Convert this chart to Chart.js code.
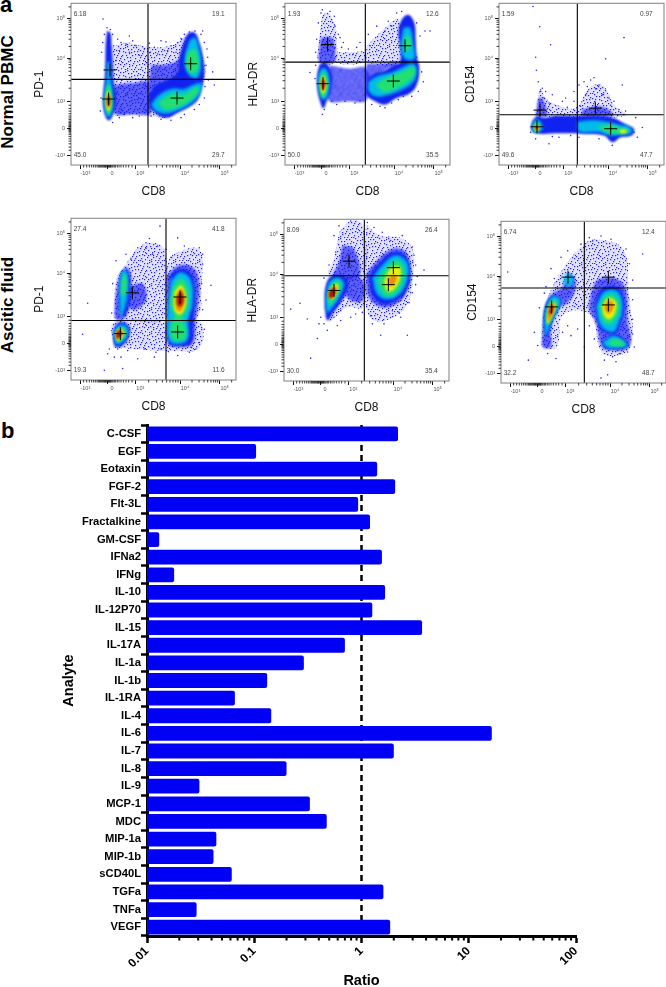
<!DOCTYPE html>
<html>
<head>
<meta charset="utf-8">
<title>CD8 flow plots and analyte ratio</title>
<script src="https://cdn.jsdelivr.net/npm/chart.js@4"></script>
<style>
  html, body { margin: 0; padding: 0; background: #fff; overflow: hidden; }
  body { position: relative; width: 666px; height: 987px; font-family: "Liberation Sans", Arial, sans-serif; color: #000; }
  canvas { position: absolute; }
  .letter { position: absolute; font-weight: bold; font-size: 22px; line-height: 22px; }
  .rowname { position: absolute; font-weight: bold; font-size: 17px; line-height: 18px; white-space: nowrap; transform: translate(-50%, -50%) rotate(-90deg); }
</style>
</head>
<body>
<div class="letter" style="left:0;top:-6px">a</div>
<div class="letter" style="left:1px;top:420px">b</div>
<div class="rowname" style="left:8px;top:92px">Normal PBMC</div>
<div class="rowname" style="left:8px;top:305px">Ascitic fluid</div>
<canvas id="p1" width="212" height="203"></canvas>
<canvas id="p2" width="212" height="203"></canvas>
<canvas id="p3" width="212" height="203"></canvas>
<canvas id="p4" width="212" height="203"></canvas>
<canvas id="p5" width="212" height="203"></canvas>
<canvas id="p6" width="212" height="203"></canvas>
<canvas id="barras" width="666" height="575"></canvas>
<script>
// panel b
const analytes = ['C-CSF','EGF','Eotaxin','FGF-2','Flt-3L','Fractalkine','GM-CSF','IFNa2','IFNg','IL-10','IL-12P70','IL-15','IL-17A','IL-1a','IL-1b','IL-1RA','IL-4','IL-6','IL-7','IL-8','IL-9','MCP-1','MDC','MIP-1a','MIP-1b','sCD40L','TGFa','TNFa','VEGF'];
const ratios = [2.19,0.104,1.40,2.06,0.93,1.20,0.013,1.55,0.0179,1.66,1.26,3.67,0.70,0.29,0.132,0.066,0.144,16.4,2.0,0.20,0.0308,0.33,0.474,0.0443,0.0417,0.0617,1.60,0.029,1.85];
const ratioTicks = [0.01,0.1,1,10,100];
const ratioTickLabels = ['0.01','0.1','1','10','100'];
const ratioMinorTicks = [0.02,0.03,0.04,0.05,0.06,0.07,0.08,0.09,0.2,0.3,0.4,0.5,0.6,0.7,0.8,0.9,2,3,4,5,6,7,8,9,20,30,40,50,60,70,80,90];
const referenceRatio = 1;

// panel a: axes are display channels of the biexponential scale (0-495, counted from the left and top of each plot)
const xTicks = [28,108,193,327,446];
const xTickLabels = ['-10³','0','10³','10⁴','10⁵'];
const xMinorTicks = [38,47,55,62,68,73,78,82,85,88,91,94,97,100,102,104,106,110,112,114,116,118,120,123,126,130,134,139,144,150,157,165,173,183,233,257,274,287,297,306,314,321,363,384,399,410,420,428,434,440,482];
const yTicks = [47,168,300,382,465];
const yTickLabels = ['10⁵','10⁴','10³','0','-10³'];
const yMinorTicks = [11,52,58,65,73,83,95,110,132,173,180,188,197,208,221,237,260,312,322,330,338,345,351,356,361,365,369,372,375,377,379,385,387,390,393,397,402,408,415,422,430,440,450];

// density contours, one list of outlines per colour band
const p1Quad = ['6.18','19.1','45.0','29.7'];
const p1Gates = [231,233];
const p1Means = [[117,204],[113,293],[359,185],[318,290]];
const p1Speckle = [[96,48],[108,75],[118,80],[125,95],[100,95],[95,120],[150,120],[165,125],[175,100],[195,130],[220,140],[250,135],[270,115],[300,130],[320,120],[340,95],[355,88],[372,85],[390,95],[400,120],[410,165],[425,210],[430,250],[400,290],[385,310],[340,340],[270,355],[240,345],[205,345],[160,340],[125,365],[135,175],[175,150],[205,160],[260,155],[290,145],[315,150],[128,130],[145,145],[238,150],[405,190],[412,235],[140,110],[92,150],[90,290],[88,330],[145,350],[185,350],[300,358],[330,350],[370,325],[402,255],[408,140],[395,85],[330,108],[285,118],[235,122],[185,115]];
const p1Haze = [[[125,135],[165,120],[210,130],[260,135],[310,125],[345,105],[390,150],[395,250],[300,345],[235,345],[170,340],[128,340],[125,250]]];
const p1Dense = [[[130,250],[180,245],[235,245],[240,335],[190,340],[130,335]],[[240,190],[300,185],[335,170],[340,240],[240,260]]];
const p1Blue = [[[108,85],[118,90],[122,130],[125,180],[128,240],[135,280],[132,320],[122,350],[112,358],[103,345],[96,310],[97,270],[101,230],[103,180],[104,130]],[[235,320],[265,345],[290,350],[320,335],[350,320],[380,295],[393,255],[400,210],[395,160],[385,120],[372,90],[352,92],[338,120],[325,165],[320,210],[290,235],[255,250],[235,280]]];
const p1Cyan = [[[108,180],[116,180],[118,220],[124,270],[126,310],[120,340],[112,350],[104,335],[100,300],[103,260],[107,220]],[[240,310],[265,280],[300,262],[340,262],[370,248],[392,245],[385,280],[355,310],[315,330],[285,338],[255,330]],[[355,115],[372,105],[385,140],[390,190],[380,228],[360,225],[345,200],[342,165]]];
const p1Green = [[[106,255],[116,250],[122,285],[122,320],[113,342],[105,325],[102,290]],[[262,305],[300,278],[340,278],[375,258],[385,265],[360,295],[320,318],[285,325]],[[350,150],[370,140],[382,170],[380,205],[360,215],[345,190]]];
const p1Yellow = [[[108,270],[115,270],[119,295],[118,320],[112,330],[106,315],[105,290]]];
const p1Orange = [[[109,278],[115,278],[118,300],[113,322],[107,308]]];
const p1Red = [[[110,285],[115,285],[117,300],[113,315],[109,305]]];

const p2Quad = ['1.93','12.6','50.0','35.5'];
const p2Gates = [241,180];
const p2Means = [[128,126],[114,246],[360,130],[325,238]];
const p2Speckle = [[112,20],[135,25],[148,40],[100,60],[150,70],[160,95],[175,120],[190,140],[205,155],[225,120],[95,110],[92,150],[75,212],[150,135],[250,95],[275,70],[310,55],[335,30],[350,25],[395,60],[405,100],[420,85],[435,85],[410,210],[415,240],[400,270],[380,285],[340,295],[300,320],[260,310],[225,298],[180,300],[140,300],[118,325],[112,340],[300,85],[320,70],[255,130],[395,165],[170,135],[215,135],[165,105],[108,30],[155,310],[210,305],[285,315],[320,305],[355,285],[90,230],[92,190]];
const p2Haze = [[[110,40],[128,28],[148,60],[155,110],[150,180],[102,180],[103,110]],[[155,150],[200,150],[240,150],[240,180],[155,182]],[[245,130],[290,85],[340,50],[350,180],[245,178]]];
const p2Dense = [[[135,190],[190,200],[245,200],[245,295],[190,300],[130,295]],[[108,105],[140,105],[150,140],[145,180],[105,180],[103,140]],[[245,185],[300,185],[340,180],[300,205],[245,235]]];
const p2Blue = [[[105,185],[125,185],[140,215],[138,265],[125,300],[115,322],[105,300],[97,260],[97,215]],[[245,235],[270,215],[300,205],[325,190],[345,180],[345,130],[340,90],[350,50],[370,35],[388,60],[392,110],[395,160],[403,200],[395,250],[375,275],[335,290],[300,310],[270,300],[245,280]]];
const p2Cyan = [[[108,200],[120,198],[132,225],[132,265],[120,295],[107,285],[100,250],[101,220]],[[250,240],[280,222],[320,212],[355,195],[385,185],[395,205],[385,240],[350,265],[310,280],[275,285],[252,270]],[[355,75],[375,75],[384,120],[388,170],[360,170],[348,135]]];
const p2Green = [[[108,215],[120,212],[128,240],[125,270],[114,290],[105,270],[103,240]],[[272,248],[310,225],[350,210],[385,195],[390,215],[370,240],[330,262],[295,272]],[[362,100],[374,100],[378,135],[365,145],[357,125]]];
const p2Yellow = [[[110,225],[118,225],[123,250],[118,275],[112,275],[107,250]]];
const p2Orange = [[[111,230],[118,232],[120,255],[114,270],[109,255]]];
const p2Red = [[[112,235],[117,235],[119,255],[114,262],[110,252]]];

const p3Quad = ['1.59','0.97','49.6','47.7'];
const p3Gates = [235,341];
const p3Means = [[123,327],[114,378],[289,321],[335,384]];
const p3Speckle = [[102,10],[122,72],[155,127],[110,165],[112,205],[118,240],[130,260],[140,270],[160,280],[200,290],[240,250],[255,240],[275,235],[300,250],[320,170],[375,105],[370,250],[345,300],[380,330],[410,350],[430,380],[415,410],[340,435],[300,415],[240,410],[180,410],[150,430],[110,415],[190,300],[225,300],[260,280],[330,290],[310,280],[135,290],[95,395],[225,270],[285,228],[265,255],[290,262],[335,312],[360,325],[150,305],[205,318],[245,315],[125,270],[405,395],[160,408],[215,405]];
const p3Haze = [[[115,300],[125,262],[140,290],[170,310],[230,320],[270,260],[310,250],[345,310],[380,345],[120,345]]];
const p3Dense = [[[110,345],[120,290],[135,300],[142,345]],[[250,325],[300,315],[335,330],[340,345],[250,345]]];
const p3Blue = [[[100,360],[115,345],[135,350],[170,345],[225,345],[290,345],[340,350],[380,370],[405,385],[398,405],[365,410],[340,425],[315,405],[260,400],[180,398],[110,398],[96,385]]];
const p3Cyan = [[[100,375],[108,358],[122,360],[130,385],[105,393]],[[235,362],[280,358],[320,362],[355,370],[395,380],[395,398],[365,402],[335,405],[300,395],[240,392]]];
const p3Green = [[[105,368],[118,365],[122,388],[105,392]],[[295,378],[330,372],[360,380],[385,385],[388,395],[365,400],[325,395]]];
const p3Yellow = [[[108,372],[117,372],[118,388],[108,388]],[[362,388],[380,387],[382,395],[365,397]]];
const p3Orange = [[[109,374],[116,374],[117,386],[109,387]]];
const p3Red = [[[110,375],[115,375],[116,385],[110,385]]];

const p4Quad = ['27.4','41.8','19.3','11.6'];
const p4Gates = [285,313];
const p4Means = [[184,228],[327,241],[148,353],[320,348]];
const p4Speckle = [[267,24],[235,62],[225,75],[200,90],[260,85],[320,60],[340,85],[385,90],[395,140],[392,200],[420,205],[395,280],[400,340],[385,380],[355,410],[320,420],[250,425],[200,430],[150,425],[110,415],[100,465],[155,460],[50,260],[35,355],[135,130],[125,200],[122,290],[140,400],[170,405],[270,400],[360,395],[300,120],[395,110],[165,110],[245,110],[115,400],[130,425],[175,380],[220,400],[255,410],[292,408],[375,400],[405,250],[180,125],[225,92],[285,95]];
const p4Haze = [[[131,306],[136,186],[161,146],[206,86],[256,76],[284,106],[284,306]],[[286,306],[291,136],[316,106],[386,96],[391,206],[376,306]],[[126,396],[131,316],[286,316],[386,316],[386,396],[306,406]]];
const p4Dense = [[[131,260],[145,180],[165,150],[180,170],[180,230],[165,300],[135,310]],[[175,210],[215,200],[225,250],[190,280],[170,265]],[[286,180],[320,145],[365,150],[385,200],[375,310],[365,385],[320,395],[290,385],[288,300]],[[125,350],[140,320],[165,320],[178,345],[165,380],[135,395]]];
const p4Blue = [[[300,170],[330,155],[360,170],[372,230],[365,320],[360,380],[320,390],[295,380],[292,300]],[[145,270],[150,175],[170,165],[175,230],[160,300]],[[128,350],[140,325],[165,325],[175,348],[160,380],[135,390]]];
const p4Cyan = [[[145,250],[150,170],[165,160],[172,200],[165,260],[150,300]],[[128,350],[142,328],[165,330],[172,350],[155,378],[135,385]],[[300,190],[330,165],[360,190],[365,260],[352,310],[350,370],[320,385],[295,375],[290,300]]];
const p4Green = [[[152,190],[162,170],[168,200],[158,240],[150,230]],[[132,350],[145,335],[162,340],[160,365],[140,378]],[[305,210],[330,185],[352,215],[350,275],[335,305],[345,340],[340,370],[305,370],[300,330],[310,300],[298,260]]];
const p4Yellow = [[[134,352],[146,338],[158,345],[155,362],[140,374]],[[310,225],[330,205],[345,240],[340,280],[325,295],[310,280]]];
const p4Orange = [[[135,353],[146,340],[155,348],[150,362],[138,372]],[[315,235],[330,215],[341,245],[335,275],[322,285],[314,268]]];
const p4Red = [[[136,352],[145,342],[152,350],[148,362],[138,368]],[[318,240],[330,225],[338,250],[328,270],[318,262]]];

const p5Quad = ['8.09','26.4','30.0','35.4'];
const p5Gates = [241,173];
const p5Means = [[195,128],[150,218],[328,148],[313,200]];
const p5Speckle = [[200,5],[165,20],[250,10],[295,40],[355,50],[385,85],[395,140],[420,155],[395,200],[375,255],[350,300],[300,320],[265,320],[290,355],[370,355],[215,290],[170,310],[105,320],[100,365],[80,425],[48,257],[20,275],[70,305],[130,340],[150,300],[120,180],[135,140],[155,100],[260,295],[325,280],[240,45],[150,50],[200,300],[235,285],[160,325],[120,320],[110,300],[270,25],[320,65],[390,110],[400,175],[385,225],[345,285]];
const p5Haze = [[[165,40],[200,5],[235,15],[238,170],[135,170],[150,120]],[[245,15],[290,50],[345,55],[385,90],[385,200],[370,260],[330,300],[270,310],[245,260]],[[150,175],[238,175],[238,270],[190,270],[135,310]]];
const p5Dense = [[[175,80],[210,90],[225,175],[150,175],[165,130]],[[245,170],[275,130],[325,90],[365,100],[382,170],[365,230],[335,260],[295,270],[255,240]],[[180,180],[235,185],[235,250],[190,240]]];
const p5Blue = [[[122,270],[125,205],[145,172],[185,180],[190,215],[170,255],[145,290],[130,310]],[[255,175],[285,135],[330,100],[365,115],[378,170],[362,225],[330,252],[295,258],[265,230]]];
const p5Cyan = [[[125,250],[135,195],[160,178],[180,195],[170,230],[145,270],[130,285]],[[265,180],[295,140],[335,110],[368,130],[372,175],[350,225],[315,245],[280,230]]];
const p5Green = [[[130,240],[140,205],[160,188],[172,200],[155,240],[138,262]],[[280,190],[305,150],[340,125],[360,150],[355,195],[330,230],[300,230]]];
const p5Yellow = [[[133,230],[145,205],[160,198],[162,215],[145,245]],[[300,190],[320,150],[345,145],[350,175],[330,215],[310,220]]];
const p5Orange = [[[134,226],[147,207],[158,208],[152,228],[138,243]],[[310,185],[330,170],[338,185],[320,205]]];
const p5Red = [[[135,222],[148,210],[155,218],[148,238],[136,240]]];

const p6Quad = ['6.74','12.4','32.2','48.7'];
const p6Gates = [250,204];
const p6Means = [[201,171],[322,171],[152,262],[322,256]];
const p6Speckle = [[425,100],[20,155],[300,45],[330,55],[375,85],[385,130],[395,180],[395,240],[395,300],[395,345],[400,385],[380,400],[335,415],[320,470],[300,480],[115,265],[100,340],[110,380],[82,425],[140,405],[165,420],[250,385],[210,350],[200,90],[180,110],[150,145],[135,200],[130,220],[240,70],[355,405],[310,425],[345,430],[230,330],[200,320],[185,340],[265,320],[280,360],[275,60],[265,50],[160,175]];
const p6Haze = [[[122,386],[127,286],[167,176],[242,76],[287,56],[367,86],[382,206],[387,386],[307,406],[267,286],[187,286],[167,386]]];
const p6Dense = [[[125,340],[130,270],[150,225],[185,200],[205,160],[225,190],[205,245],[170,270],[150,330],[150,385],[125,385]],[[270,220],[290,180],[345,175],[375,210],[380,300],[385,385],[320,395],[300,380],[285,310],[265,270]]];
const p6Blue = [[[128,320],[133,262],[155,228],[178,238],[172,270],[150,315],[137,355]],[[280,255],[305,205],[352,205],[370,255],[355,325],[340,345],[300,330]],[[303,370],[340,345],[382,378],[350,390],[313,387]]];
const p6Cyan = [[[130,320],[135,265],[155,230],[178,240],[170,270],[150,310],[135,350]],[[185,185],[200,160],[218,175],[205,200]],[[285,260],[310,215],[350,215],[365,260],[350,320],[335,340],[300,320]],[[305,370],[340,350],[380,378],[350,388],[315,385]]];
const p6Green = [[[135,305],[140,265],[155,240],[170,250],[160,280],[142,315]],[[295,260],[318,225],[345,230],[355,265],[335,310],[310,310]],[[320,372],[345,360],[372,378],[340,382]]];
const p6Yellow = [[[138,295],[147,258],[160,250],[163,265],[150,295],[140,315]],[[303,260],[322,235],[345,248],[340,285],[322,300],[308,285]]];
const p6Orange = [[[140,285],[150,250],[160,258],[152,290],[142,305]],[[312,252],[328,242],[338,262],[325,282],[312,272]]];
const p6Red = [[[143,280],[152,255],[157,265],[150,285]]];

const flowPanels = [
  { id:'p1', left:71,  top:0,   xName:'CD8', yName:'PD-1',   gap:6, quad:p1Quad, gates:p1Gates, means:p1Means, speckle:p1Speckle, haze:p1Haze, dense:p1Dense, blue:p1Blue, cyan:p1Cyan, green:p1Green, yellow:p1Yellow, orange:p1Orange, red:p1Red },
  { id:'p2', left:285, top:0,   xName:'CD8', yName:'HLA-DR', gap:6, quad:p2Quad, gates:p2Gates, means:p2Means, speckle:p2Speckle, haze:p2Haze, dense:p2Dense, blue:p2Blue, cyan:p2Cyan, green:p2Green, yellow:p2Yellow, orange:p2Orange, red:p2Red },
  { id:'p3', left:499, top:0,   xName:'CD8', yName:'CD154',  gap:9, quad:p3Quad, gates:p3Gates, means:p3Means, speckle:p3Speckle, haze:p3Haze, dense:p3Dense, blue:p3Blue, cyan:p3Cyan, green:p3Green, yellow:p3Yellow, orange:p3Orange, red:p3Red },
  { id:'p4', left:71,  top:215, xName:'CD8', yName:'PD-1',   gap:6, quad:p4Quad, gates:p4Gates, means:p4Means, speckle:p4Speckle, haze:p4Haze, dense:p4Dense, blue:p4Blue, cyan:p4Cyan, green:p4Green, yellow:p4Yellow, orange:p4Orange, red:p4Red },
  { id:'p5', left:284, top:216, xName:'CD8', yName:'HLA-DR', gap:6, quad:p5Quad, gates:p5Gates, means:p5Means, speckle:p5Speckle, haze:p5Haze, dense:p5Dense, blue:p5Blue, cyan:p5Cyan, green:p5Green, yellow:p5Yellow, orange:p5Orange, red:p5Red },
  { id:'p6', left:501, top:218, xName:'CD8', yName:'CD154',  gap:9, quad:p6Quad, gates:p6Gates, means:p6Means, speckle:p6Speckle, haze:p6Haze, dense:p6Dense, blue:p6Blue, cyan:p6Cyan, green:p6Green, yellow:p6Yellow, orange:p6Orange, red:p6Red }
];

const FONT = '"Liberation Sans", Arial, sans-serif';

const toPoint = ([x, y]) => ({ x, y });

// grainy fill for the sparse parts of a plot, the dots are only a texture
const grainDots = [[1,2],[5,0],[9,3],[14,1],[18,4],[22,2],[3,6],[7,7],[12,5],[16,8],[20,7],[0,9],[5,11],[10,9],[13,12],[18,11],[23,10],[2,13],[8,14],[15,15],[21,14],[4,17],[11,17],[17,18],[22,18],[1,20],[7,20],[13,21],[19,21],[3,23],[9,23],[16,23],[23,22],[6,3],[11,1],[20,0],[15,5],[1,5],[8,11],[19,9],[4,9],[12,15],[0,16],[23,15],[6,15],[17,14],[10,19],[20,17],[14,19],[2,18],[5,22],[12,23],[18,23],[21,5],[9,6],[16,3],[3,1],[13,8],[7,18],[22,12]];

function grain(base, dot) {
  const tile = document.createElement('canvas');
  tile.width = 24;
  tile.height = 24;
  const t = tile.getContext('2d');
  t.fillStyle = base;
  t.fillRect(0, 0, 24, 24);
  t.fillStyle = dot;
  grainDots.forEach(([x, y]) => t.fillRect(x, y, 1.2, 1.2));
  return t.createPattern(tile, 'repeat');
}

// one filled outline per region of a band
function band(regions, color, blur) {
  return regions.map(region => ({
    data: region.concat([region[0]]).map(toPoint),
    showLine: true, fill: 'shape', tension: 0.4,
    backgroundColor: color, borderWidth: 0, pointRadius: 0, blur: blur
  }));
}

// has to run before the Filler plugin so the filter is set when the fill is painted
const blurPlugin = {
  id: 'blurPlugin',
  beforeDatasetDraw(chart, args) {
    chart.ctx.save();
    const ds = chart.data.datasets[args.index];
    if (ds.blur) chart.ctx.filter = 'blur(' + ds.blur + 'px)';
  },
  afterDatasetDraw(chart) {
    chart.ctx.restore();
  }
};
Chart.unregister(Chart.Filler);
Chart.register(blurPlugin, Chart.Filler);

// gates, frame, quadrant numbers and small ticks go on top of the density
const flowPlugin = {
  id: 'flowPlugin',
  afterDatasetsDraw(chart, args, opts) {
    const { ctx, chartArea: a, scales: { x, y } } = chart;
    ctx.save();
    ctx.strokeStyle = '#000';
    ctx.lineWidth = 1.1;
    ctx.beginPath();
    ctx.moveTo(x.getPixelForValue(opts.gates[0]), a.top);
    ctx.lineTo(x.getPixelForValue(opts.gates[0]), a.bottom);
    ctx.moveTo(a.left, y.getPixelForValue(opts.gates[1]));
    ctx.lineTo(a.right, y.getPixelForValue(opts.gates[1]));
    ctx.stroke();

    ctx.strokeStyle = '#8a8a8a';
    ctx.strokeRect(a.left, a.top, a.right - a.left, a.bottom - a.top);

    ctx.strokeStyle = '#111';
    ctx.lineWidth = 0.8;
    ctx.beginPath();
    xMinorTicks.forEach(v => {
      const px = x.getPixelForValue(v);
      ctx.moveTo(px, a.bottom);
      ctx.lineTo(px, a.bottom + 2.5);
    });
    yMinorTicks.forEach(v => {
      const py = y.getPixelForValue(v);
      ctx.moveTo(a.left, py);
      ctx.lineTo(a.left - 2.5, py);
    });
    ctx.stroke();

    ctx.fillStyle = '#444';
    ctx.font = '6.5px ' + FONT;
    ctx.textBaseline = 'middle';
    ctx.textAlign = 'left';
    ctx.fillText(opts.quad[0], x.getPixelForValue(8), y.getPixelForValue(32));
    ctx.fillText(opts.quad[2], x.getPixelForValue(8), y.getPixelForValue(465));
    ctx.textAlign = 'right';
    ctx.fillText(opts.quad[1], x.getPixelForValue(461), y.getPixelForValue(32));
    ctx.fillText(opts.quad[3], x.getPixelForValue(461), y.getPixelForValue(465));
    ctx.restore();
  }
};

const hazeFill = grain('rgba(60,60,255,0.16)', '#1e1ef5');
const denseFill = grain('rgba(25,30,245,0.62)', '#0f0fe8');

flowPanels.forEach(p => {
  const canvas = document.getElementById(p.id);
  canvas.style.left = (p.left - 45) + 'px';
  canvas.style.top = (p.top - 2) + 'px';
  new Chart(canvas.getContext('2d'), {
    type: 'scatter',
    data: {
      // first dataset ends up on top
      datasets: [
        { data: p.means.map(toPoint), pointStyle: 'cross', pointRadius: 6.5, borderColor: '#000', borderWidth: 1 },
        ...band(p.red, '#a81800', 0.8),
        ...band(p.orange, '#f08c00', 1),
        ...band(p.yellow, '#e8ee10', 1.2),
        ...band(p.green, '#22e070', 1.5),
        ...band(p.cyan, '#00bce8', 1.8),
        ...band(p.blue, '#1022f0', 1),
        ...band(p.dense, denseFill, 1),
        ...band(p.haze, hazeFill, 0.5),
        { data: p.speckle.map(toPoint), pointRadius: 0.8, backgroundColor: '#2a2aff', borderWidth: 0 }
      ]
    },
    options: {
      responsive: false,
      animation: false,
      events: [],
      layout: { autoPadding: false, padding: { top: 2, right: 2 } },
      plugins: { legend: { display: false }, tooltip: { enabled: false }, flowPlugin: { quad: p.quad, gates: p.gates } },
      scales: {
        x: {
          type: 'linear', min: 0, max: 495,
          afterFit: s => { s.height = 36; },
          afterBuildTicks: s => { s.ticks = xTicks.map(v => ({ value: v })); },
          border: { display: false },
          grid: { drawOnChartArea: false, tickLength: 4, tickColor: '#111', tickWidth: 1 },
          ticks: { callback: (v, i) => xTickLabels[i], autoSkip: false, maxRotation: 0, labelOffset: 5, padding: 1, color: '#555', font: { family: FONT, size: 5.5 } },
          title: { display: true, text: p.xName, color: '#111', font: { family: FONT, size: 12 }, padding: { top: 0, bottom: 2 } }
        },
        y: {
          type: 'linear', min: 0, max: 495, reverse: true,
          afterFit: s => { s.width = 45; },
          afterBuildTicks: s => { s.ticks = yTicks.map(v => ({ value: v })); },
          border: { display: false },
          grid: { drawOnChartArea: false, tickLength: 4, tickColor: '#111', tickWidth: 1 },
          ticks: { callback: (v, i) => yTickLabels[i], autoSkip: false, padding: 2, color: '#555', font: { family: FONT, size: 5.5 } },
          title: { display: true, text: p.yName, color: '#111', font: { family: FONT, size: 12 }, padding: { top: p.gap, bottom: 0 } }
        }
      }
    },
    plugins: [flowPlugin]
  });
});

// dashed reference goes under the bars, small log ticks go on the axis
const ratioPlugin = {
  id: 'ratioPlugin',
  beforeDatasetsDraw(chart) {
    const { ctx, chartArea: a, scales: { x } } = chart;
    const px = x.getPixelForValue(referenceRatio);
    ctx.save();
    ctx.strokeStyle = '#000';
    ctx.lineWidth = 2.5;
    ctx.setLineDash([6, 4]);
    ctx.beginPath();
    ctx.moveTo(px, a.top);
    ctx.lineTo(px, a.bottom);
    ctx.stroke();
    ctx.restore();
  },
  afterDraw(chart) {
    const { ctx, chartArea: a, scales: { x } } = chart;
    ctx.save();
    ctx.strokeStyle = '#000';
    ctx.lineWidth = 2;
    ctx.beginPath();
    ratioMinorTicks.forEach(v => {
      const px = x.getPixelForValue(v);
      ctx.moveTo(px, a.bottom);
      ctx.lineTo(px, a.bottom + 4.5);
    });
    ctx.stroke();
    ctx.restore();
  }
};

const canvasBarras = document.getElementById('barras');
canvasBarras.style.left = '0px';
canvasBarras.style.top = '415px';
new Chart(canvasBarras.getContext('2d'), {
  type: 'bar',
  data: {
    labels: analytes,
    datasets: [{
      data: ratios,
      backgroundColor: '#0000f5',
      barPercentage: 0.84,
      categoryPercentage: 1,
      borderRadius: { topRight: 2, bottomRight: 2 },
      borderSkipped: false
    }]
  },
  options: {
    indexAxis: 'y',
    responsive: false,
    animation: false,
    events: [],
    layout: { padding: { top: 10, right: 90 } },
    plugins: { legend: { display: false }, tooltip: { enabled: false } },
    scales: {
      x: {
        type: 'logarithmic', min: 0.01, max: 100,
        afterFit: s => { s.height = 54; },
        afterBuildTicks: s => { s.ticks = ratioTicks.map(v => ({ value: v })); },
        border: { color: '#000', width: 3 },
        grid: { drawOnChartArea: false, tickLength: 7, tickColor: '#000', tickWidth: 2.5 },
        ticks: { callback: (v, i) => ratioTickLabels[i], autoSkip: false, minRotation: 45, maxRotation: 45, padding: 1, color: '#000', font: { family: FONT, size: 12, weight: 'bold' } },
        title: { display: true, text: 'Ratio', color: '#000', font: { family: FONT, size: 14.5, weight: 'bold' }, padding: { top: 0, bottom: 0 } }
      },
      y: {
        type: 'category',
        afterFit: s => { s.width = 147; },
        border: { color: '#000', width: 3 },
        grid: { drawOnChartArea: false, tickLength: 6, tickColor: '#000', tickWidth: 2.5 },
        ticks: { autoSkip: false, padding: 0, color: '#000', font: { family: FONT, size: 11.2, weight: 'bold' } },
        title: { display: true, text: 'Analyte', color: '#000', font: { family: FONT, size: 14.5, weight: 'bold' }, padding: { top: 60, bottom: 0 } }
      }
    }
  },
  plugins: [ratioPlugin]
});
</script>
</body>
</html>
